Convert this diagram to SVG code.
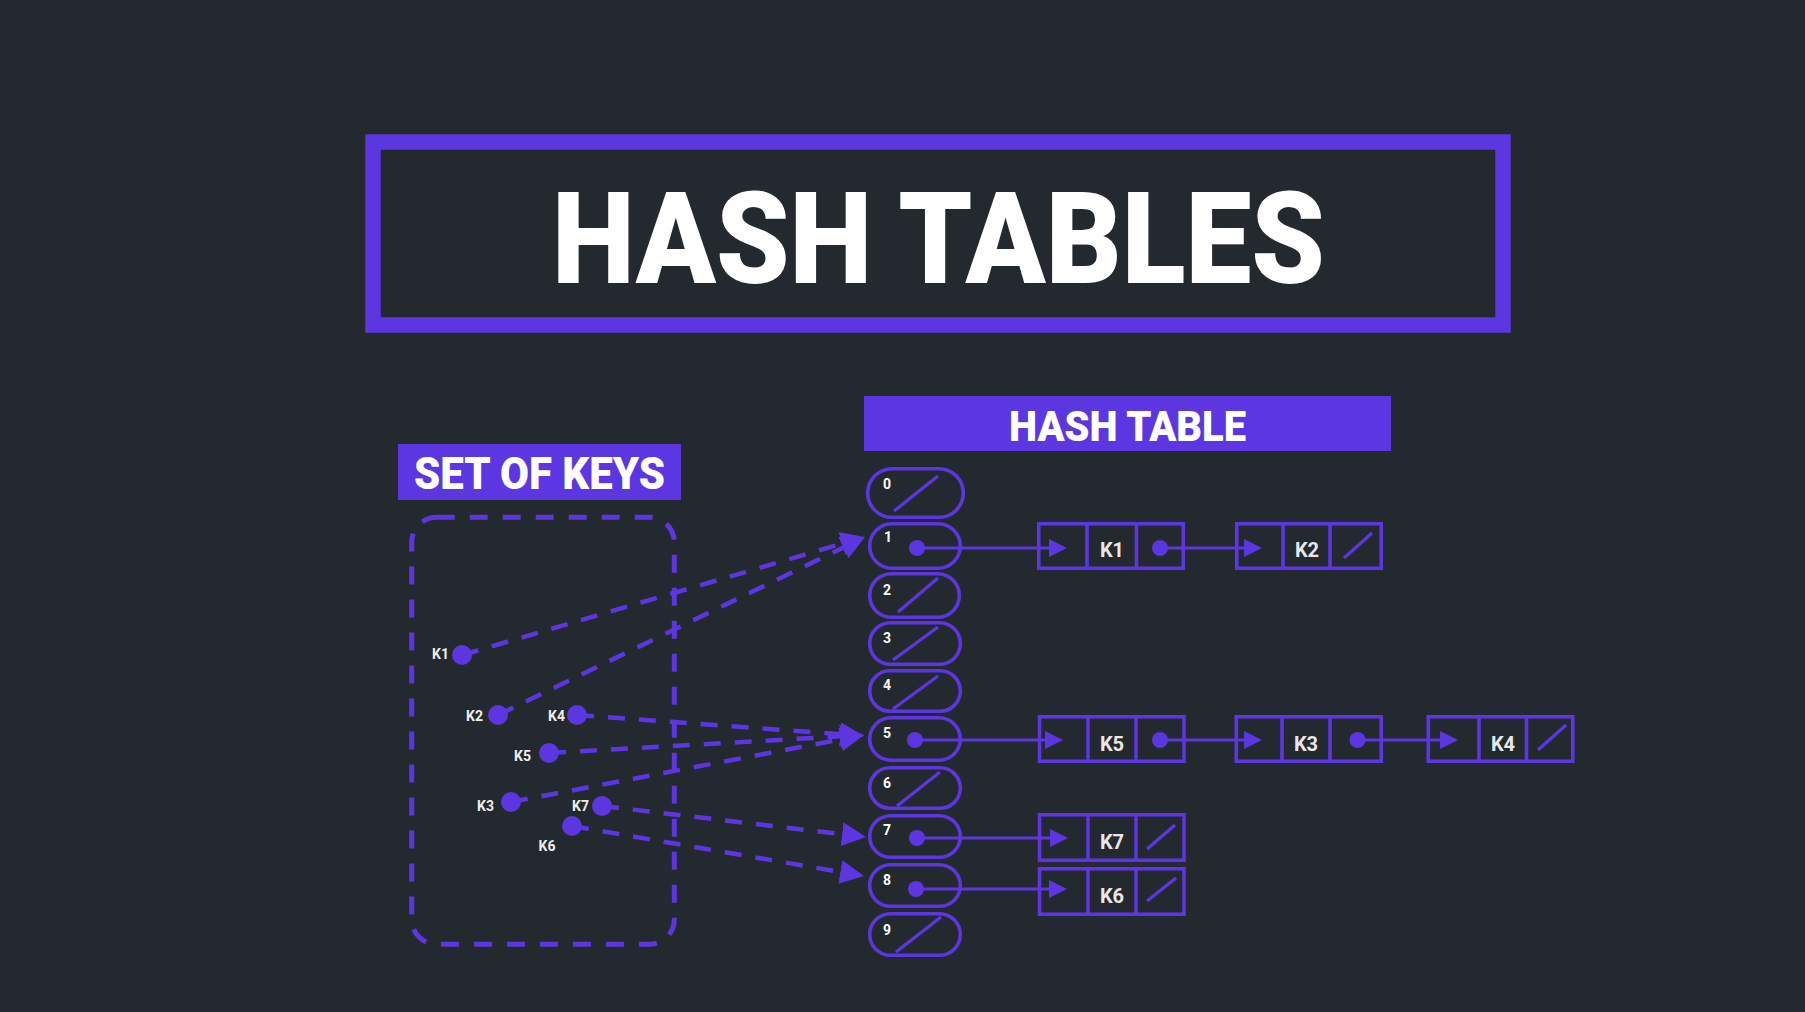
<svg xmlns="http://www.w3.org/2000/svg" width="1805" height="1012" viewBox="0 0 1805 1012">
<style>
.bg{fill:#24282f}
.pur{fill:#5c36e0}
.box{fill:none;stroke:#5c36e0}
.slot{fill:none;stroke:#5c36e0;stroke-width:3.6}
.slash{stroke:#5c36e0;stroke-width:3.4;stroke-linecap:butt}
.node{fill:none;stroke:#5c36e0;stroke-width:3.6}
.num{font-family:Roboto,"Liberation Sans",sans-serif;font-weight:700;font-size:14px;fill:#ffffff}
.klab{font-family:Roboto,"Liberation Sans",sans-serif;font-weight:700;font-size:14px;fill:#eeeeee}
.nlab{font-family:Roboto,"Liberation Sans",sans-serif;font-weight:700;font-size:20px;fill:#e8e8e8;text-anchor:middle}
.dash{fill:none;stroke:#5c36e0;stroke-width:4.5;stroke-dasharray:17 14}
.frame{fill:none;stroke:#5c36e0;stroke-width:5;stroke-dasharray:18 15}
.solid{fill:none;stroke:#5c36e0;stroke-width:3}
.head{font-family:Roboto,"Liberation Sans",sans-serif;font-weight:900;fill:#ffffff}
</style>
<defs>
<marker id="big" markerUnits="userSpaceOnUse" markerWidth="24" markerHeight="24" viewBox="0 0 24 24" refX="19" refY="12" orient="auto">
<path d="M0,0 L24,12 L0,24 Z" fill="#5c36e0"/>
</marker>
<marker id="small" markerUnits="userSpaceOnUse" markerWidth="18" markerHeight="18" viewBox="0 0 18 18" refX="15" refY="9" orient="auto">
<path d="M0,0 L18,9 L0,18 Z" fill="#5c36e0"/>
</marker>
</defs>
<rect class="bg" x="0" y="0" width="1805" height="1012"/>

<g id="title">
<rect class="box" x="373" y="142" width="1130" height="183" stroke-width="15.5"/>
<text class="head" x="552" y="283" font-size="128" textLength="773" lengthAdjust="spacingAndGlyphs">HASH TABLES</text>
</g>

<g id="set-of-keys-label">
<rect class="pur" x="398" y="444" width="283" height="56"/>
<text class="head" x="414" y="489" font-size="44" font-weight="700" textLength="251" lengthAdjust="spacingAndGlyphs">SET OF KEYS</text>
</g>

<g id="hash-table-label">
<rect class="pur" x="864" y="396" width="527" height="55"/>
<text class="head" x="1009" y="441" font-size="42" textLength="237" lengthAdjust="spacingAndGlyphs">HASH TABLE</text>
</g>

<g id="key-set">
<rect x="411.7" y="517.3" width="262.6" height="427" rx="25" class="frame"/>
</g>

<g id="connectors">
<line class="dash" x1="462" y1="655" x2="860.2" y2="538.4" marker-end="url(#big)"/>
<line class="dash" x1="498" y1="715" x2="860.5" y2="539.2" marker-end="url(#big)"/>
<line class="dash" x1="577" y1="715" x2="859" y2="735.6" marker-end="url(#big)"/>
<line class="dash" x1="549" y1="753" x2="859" y2="735.3" marker-end="url(#big)"/>
<line class="dash" x1="511" y1="802" x2="859.1" y2="735.9" marker-end="url(#big)"/>
<line class="dash" x1="602" y1="806" x2="861" y2="836.4" marker-end="url(#big)"/>
<line class="dash" x1="572" y1="826" x2="859.1" y2="875.2" marker-end="url(#big)"/>

<line class="solid" x1="917" y1="548" x2="1064" y2="548" marker-end="url(#small)"/>
<line class="solid" x1="1160" y1="548" x2="1259" y2="548" marker-end="url(#small)"/>
<line class="solid" x1="915" y1="740" x2="1060" y2="740" marker-end="url(#small)"/>
<line class="solid" x1="1160" y1="740" x2="1259" y2="740" marker-end="url(#small)"/>
<line class="solid" x1="1357.5" y1="740" x2="1455" y2="740" marker-end="url(#small)"/>
<line class="solid" x1="917" y1="838" x2="1065" y2="838" marker-end="url(#small)"/>
<line class="solid" x1="916" y1="889" x2="1064" y2="889" marker-end="url(#small)"/>
</g>

<g id="key-K1"><circle class="pur" cx="462" cy="655" r="10"/><text class="klab" x="449" y="659" text-anchor="end">K1</text></g>
<g id="key-K2"><circle class="pur" cx="498" cy="715" r="10"/><text class="klab" x="483" y="721" text-anchor="end">K2</text></g>
<g id="key-K4"><circle class="pur" cx="577" cy="715" r="10"/><text class="klab" x="565" y="721" text-anchor="end">K4</text></g>
<g id="key-K5"><circle class="pur" cx="549" cy="753" r="10"/><text class="klab" x="531" y="761" text-anchor="end">K5</text></g>
<g id="key-K3"><circle class="pur" cx="511" cy="802" r="10"/><text class="klab" x="494" y="811" text-anchor="end">K3</text></g>
<g id="key-K7"><circle class="pur" cx="602" cy="806" r="10"/><text class="klab" x="589" y="811" text-anchor="end">K7</text></g>
<g id="key-K6"><circle class="pur" cx="572" cy="826" r="10"/><text class="klab" x="547" y="851" text-anchor="middle">K6</text></g>

<g id="slot-0"><rect class="slot" x="867.7" y="468.7" width="95.6" height="48.6" rx="24.3"/><text class="num" x="883" y="489">0</text><line class="slash" x1="894" y1="511" x2="938" y2="476"/></g>
<g id="slot-1"><rect class="slot" x="869.7" y="523.7" width="90.6" height="44.6" rx="22.3"/><text class="num" x="884" y="542">1</text><circle class="pur" cx="917" cy="548" r="8"/></g>
<g id="slot-2"><rect class="slot" x="869.7" y="573.7" width="89.6" height="43.6" rx="21.8"/><text class="num" x="883" y="595">2</text><line class="slash" x1="898" y1="612" x2="938" y2="578"/></g>
<g id="slot-3"><rect class="slot" x="869.7" y="622.7" width="90.6" height="41.6" rx="20.8"/><text class="num" x="883" y="643">3</text><line class="slash" x1="893" y1="660" x2="938" y2="627"/></g>
<g id="slot-4"><rect class="slot" x="869.7" y="670.7" width="90.6" height="40.6" rx="20.3"/><text class="num" x="883" y="690">4</text><line class="slash" x1="893" y1="709" x2="938" y2="676"/></g>
<g id="slot-5"><rect class="slot" x="869.7" y="717.7" width="90.6" height="42.6" rx="21.3"/><text class="num" x="883" y="738">5</text><circle class="pur" cx="915" cy="740" r="8"/></g>
<g id="slot-6"><rect class="slot" x="869.7" y="767.7" width="90.6" height="40.6" rx="20.3"/><text class="num" x="883" y="788">6</text><line class="slash" x1="897" y1="806" x2="940" y2="772"/></g>
<g id="slot-7"><rect class="slot" x="869.7" y="815.7" width="90.6" height="41.6" rx="20.8"/><text class="num" x="883" y="835">7</text><circle class="pur" cx="917" cy="838" r="8"/></g>
<g id="slot-8"><rect class="slot" x="869.7" y="864.7" width="90.6" height="41.6" rx="20.8"/><text class="num" x="883" y="885">8</text><circle class="pur" cx="916" cy="889" r="8"/></g>
<g id="slot-9"><rect class="slot" x="869.7" y="913.7" width="90.6" height="41.6" rx="20.8"/><text class="num" x="883" y="935">9</text><line class="slash" x1="896" y1="952" x2="941" y2="917"/></g>

<g id="node-K1"><rect class="node" x="1038.75" y="523.75" width="144.5" height="44.5"/><line class="node" x1="1087" y1="522" x2="1087" y2="570"/><line class="node" x1="1136.5" y1="522" x2="1136.5" y2="570"/><text class="nlab" x="1112" y="557">K1</text><circle class="pur" cx="1160" cy="548" r="8"/></g>
<g id="node-K2"><rect class="node" x="1236.75" y="523.75" width="144.5" height="44.5"/><line class="node" x1="1283" y1="522" x2="1283" y2="570"/><line class="node" x1="1330" y1="522" x2="1330" y2="570"/><text class="nlab" x="1307" y="557">K2</text><line class="slash" x1="1344" y1="558" x2="1372" y2="533"/></g>
<g id="node-K5"><rect class="node" x="1039.5" y="716.75" width="144.5" height="44.5"/><line class="node" x1="1088" y1="715" x2="1088" y2="763"/><line class="node" x1="1136" y1="715" x2="1136" y2="763"/><text class="nlab" x="1112" y="751">K5</text><circle class="pur" cx="1160" cy="740" r="8"/></g>
<g id="node-K3"><rect class="node" x="1236.25" y="716.75" width="145" height="44.5"/><line class="node" x1="1282" y1="715" x2="1282" y2="763"/><line class="node" x1="1330" y1="715" x2="1330" y2="763"/><text class="nlab" x="1306" y="751">K3</text><circle class="pur" cx="1357.5" cy="740" r="8"/></g>
<g id="node-K4"><rect class="node" x="1428.25" y="716.75" width="144.5" height="44.5"/><line class="node" x1="1479" y1="715" x2="1479" y2="763"/><line class="node" x1="1526.5" y1="715" x2="1526.5" y2="763"/><text class="nlab" x="1503" y="751">K4</text><line class="slash" x1="1538" y1="750" x2="1566" y2="725"/></g>
<g id="node-K7"><rect class="node" x="1039.5" y="814.75" width="144.5" height="45.5"/><line class="node" x1="1088" y1="813" x2="1088" y2="862"/><line class="node" x1="1136" y1="813" x2="1136" y2="862"/><text class="nlab" x="1112" y="849">K7</text><line class="slash" x1="1147" y1="849" x2="1175" y2="825"/></g>
<g id="node-K6"><rect class="node" x="1039.5" y="868.75" width="144.5" height="45.5"/><line class="node" x1="1088" y1="867" x2="1088" y2="916"/><line class="node" x1="1136" y1="867" x2="1136" y2="916"/><text class="nlab" x="1112" y="903">K6</text><line class="slash" x1="1147" y1="901" x2="1176" y2="878"/></g>
</svg>
